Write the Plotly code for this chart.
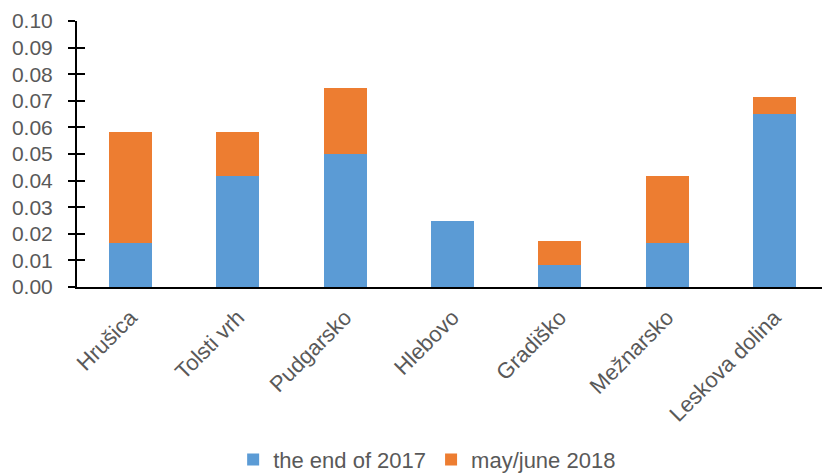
import plotly.graph_objects as go

sites = ["Hrušica", "Tolsti vrh", "Pudgarsko", "Hlebovo", "Gradiško", "Mežnarsko", "Leskova dolina"]
end_2017 = [0.0167, 0.0417, 0.0500, 0.0250, 0.0084, 0.0167, 0.0650]
may_june_2018 = [0.0416, 0.0166, 0.0250, 0.0, 0.0090, 0.0250, 0.0063]
y_ticks = [0.00, 0.01, 0.02, 0.03, 0.04, 0.05, 0.06, 0.07, 0.08, 0.09, 0.10]

FONT = "Liberation Sans"
GREY = "#595959"

fig = go.Figure()
fig.add_trace(go.Bar(x=sites, y=end_2017, name="the end of 2017",
                     marker=dict(color="#5B9BD5", line=dict(width=0))))
fig.add_trace(go.Bar(x=sites, y=may_june_2018, name="may/june 2018",
                     marker=dict(color="#ED7D31", line=dict(width=0))))
# carrier for the inward half of the y tick marks
fig.add_trace(go.Scatter(x=[], y=[], yaxis="y2", showlegend=False, hoverinfo="skip"))

fig.update_layout(
    width=822, height=474,
    margin=dict(l=77, r=0, t=21, b=187, autoexpand=False),
    paper_bgcolor="white", plot_bgcolor="white",
    barmode="stack", bargap=0.6,
    font=dict(family=FONT, size=21, color=GREY),
    xaxis=dict(
        type="category", range=[-0.5, 6.443], automargin=False,
        showline=True, linecolor="black", linewidth=2,
        ticks="", tickangle=-45, showgrid=False,
        tickfont=dict(family=FONT, size=22, color=GREY),
        ticklabelstandoff=7,
    ),
    yaxis=dict(
        range=[0, 0.10], tickvals=y_ticks, tickformat=".2f", automargin=False,
        showline=True, linecolor="black", linewidth=2,
        ticks="outside", ticklen=7, tickwidth=2, tickcolor="black",
        showgrid=False, zeroline=False,
        tickfont=dict(family=FONT, size=21, color=GREY),
        ticklabelstandoff=11,
    ),
    yaxis2=dict(
        overlaying="y", side="left", anchor="x", automargin=False,
        range=[0, 0.10], tickvals=y_ticks,
        ticks="inside", ticklen=8, tickwidth=2, tickcolor="black",
        showticklabels=False, showline=False, showgrid=False, zeroline=False,
    ),
    legend=dict(
        orientation="h", xref="paper", x=0.47, xanchor="center",
        yref="container", y=0.03, yanchor="middle",
        font=dict(family=FONT, size=22, color=GREY),
        itemwidth=30, tracegroupgap=0, traceorder="normal",
    ),
    showlegend=True,
)

fig.write_html("out.html")
